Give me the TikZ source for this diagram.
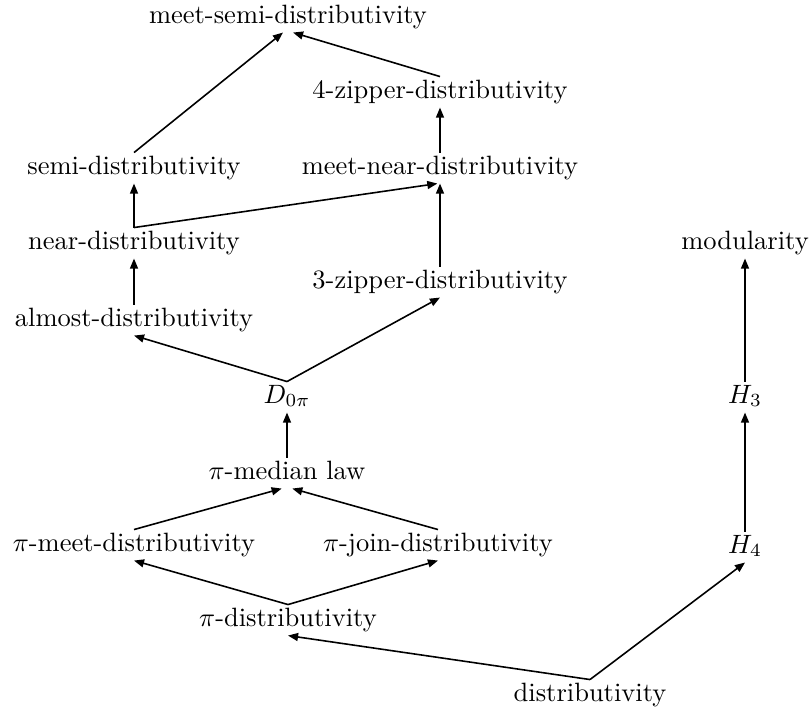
\documentclass[tikz,border=0pt]{standalone}
\usetikzlibrary{arrows.meta}
\begin{document}
\begin{tikzpicture}[x=0.3774pt,y=-0.3774pt,
  lbl/.style={inner sep=0pt, text height=7.9pt, text depth=3.4pt, anchor=base},
  arr/.style={-{Triangle[length=3.8pt,width=3pt]}, line width=0.6pt}]
\useasboundingbox (0,0) rectangle (812,711);
\node[lbl] (meetsemi) at (288,23) {meet-semi-distributivity};
\node[lbl] (zipfour) at (440,98) {4-zipper-distributivity};
\node[lbl] (semi) at (134,174) {semi-distributivity};
\node[lbl] (meetnear) at (440,174) {meet-near-distributivity};
\node[lbl] (near) at (134,249) {near-distributivity};
\node[lbl] (modularity) at (745,249) {modularity};
\node[lbl] (zipthree) at (440,288) {3-zipper-distributivity};
\node[lbl] (almost) at (134,326) {almost-distributivity};
\node[lbl] (dzero) at (287,403) {$D_{0\pi}$};
\node[lbl] (hthree) at (745,403) {$H_3$};
\node[lbl] (median) at (287,479) {$\pi$-median law};
\node[lbl] (pimeet) at (134,551) {$\pi$-meet-distributivity};
\node[lbl] (pijoin) at (438,551) {$\pi$-join-distributivity};
\node[lbl] (hfour) at (745,553) {$H_4$};
\node[lbl] (pidist) at (288,626) {$\pi$-distributivity};
\node[lbl] (dist) at (590,701) {distributivity};

\draw[arr] (semi.north) -- ([xshift=-1.9pt]meetsemi.south);
\draw[arr] (zipfour.north) -- ([xshift=1.9pt]meetsemi.south);
\draw[arr] (meetnear.north) -- (zipfour.south);
\draw[arr] (near.north) -- (semi.south);
\draw[arr] (near.north) -- ([xshift=-1pt]meetnear.south);
\draw[arr] (zipthree.north) -- (meetnear.south);
\draw[arr] (almost.north) -- (near.south);
\draw[arr] (dzero.north) -- (almost.south);
\draw[arr] (dzero.north) -- (zipthree.south);
\draw[arr] (median.north) -- (dzero.south);
\draw[arr] (pimeet.north) -- ([xshift=-2pt]median.south);
\draw[arr] (pijoin.north) -- ([xshift=2pt]median.south);
\draw[arr] (pidist.north) -- (pimeet.south);
\draw[arr] (pidist.north) -- (pijoin.south);
\draw[arr] (dist.north) -- (pidist.south);
\draw[arr] (dist.north) -- (hfour.south);
\draw[arr] (hfour.north) -- (hthree.south);
\draw[arr] (hthree.north) -- (modularity.south);
\end{tikzpicture}
\end{document}
